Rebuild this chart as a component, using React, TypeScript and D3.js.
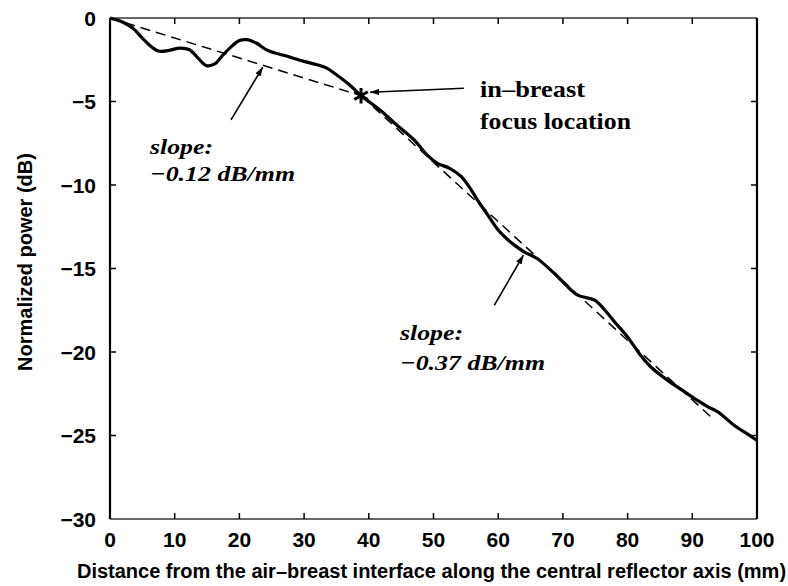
import React from "react";
import * as d3 from "d3";

const distanceMm = [0, 2, 3.5, 5, 6.5, 7.5, 9, 10.8, 12.3, 13.6, 14.9, 16.2, 17.5, 18.8, 20, 21.2, 22.6, 24.4, 27, 29.5, 32, 33.5, 35, 37, 38.8, 40, 42, 44, 47, 49, 50.6, 52.5, 54.3, 55.5, 56.8, 58.4, 60, 61, 62.5, 64, 66, 68.7, 70.5, 72.3, 74.9, 76.5, 78, 80, 82, 83.6, 86.2, 88.5, 90.8, 92.5, 94, 96.5, 98.5, 100];
const powerDb = [0, -0.25, -0.6, -1.2, -1.75, -1.98, -1.95, -1.8, -1.9, -2.4, -2.85, -2.75, -2.2, -1.7, -1.35, -1.3, -1.5, -1.95, -2.25, -2.55, -2.8, -3.0, -3.4, -4.0, -4.65, -5.0, -5.6, -6.3, -7.3, -8.2, -8.7, -9.0, -9.5, -10.1, -10.9, -11.8, -12.7, -13.1, -13.6, -14.0, -14.4, -15.3, -16.0, -16.6, -16.9, -17.5, -18.2, -19.1, -20.2, -20.9, -21.7, -22.3, -22.9, -23.3, -23.6, -24.4, -24.9, -25.3];

const fit1Mm = [0, 38.8];
const fit1Db = [0, -4.65];
const fit2Mm = [38.8, 93.2];
const fit2Db = [-4.65, -24.0];

const focusMm = 38.8;
const focusDb = -4.65;

const xTicks = [0, 10, 20, 30, 40, 50, 60, 70, 80, 90, 100];
const yTicks = [0, -5, -10, -15, -20, -25, -30];
const yTickLabels = ["0", "\u22125", "\u221210", "\u221215", "\u221220", "\u221225", "\u221230"];

const xLabel = "Distance from the air\u2013breast interface along the central reflector axis (mm)";
const yLabel = "Normalized power  (dB)";
const slopeLabel = "slope:";
const slope1Label = "\u22120.12 dB/mm";
const slope2Label = "\u22120.37 dB/mm";
const focusLabel1 = "in\u2013breast";
const focusLabel2 = "focus location";

const W = 788;
const H = 586;
const left = 110;
const right = 757;
const top = 18;
const bottom = 519;

export default function App() {
  const x = d3.scaleLinear().domain([0, 100]).range([left, right]);
  const y = d3.scaleLinear().domain([-30, 0]).range([bottom, top]);

  const pts = distanceMm.map((d, i) => [d, powerDb[i]] as [number, number]);
  const line = d3
    .line<[number, number]>()
    .x((d) => x(d[0]))
    .y((d) => y(d[1]))
    .curve(d3.curveCatmullRom.alpha(0.5));

  const fit1 = fit1Mm.map((d, i) => [d, fit1Db[i]] as [number, number]);
  const fit2 = fit2Mm.map((d, i) => [d, fit2Db[i]] as [number, number]);
  const straight = d3
    .line<[number, number]>()
    .x((d) => x(d[0]))
    .y((d) => y(d[1]));

  const star = d3.symbol().type(d3.symbolAsterisk).size(170)();

  const sans = "'Liberation Sans', Arial, sans-serif";
  const serif = "'Liberation Serif', 'Times New Roman', serif";
  const tickLen = 6;

  return (
    <svg
      width={W}
      height={H}
      style={{ position: "absolute", left: 0, top: 0, background: "#fff" }}
    >
      <defs>
        <marker
          id="ah"
          viewBox="0 0 10 10"
          refX="10"
          refY="5"
          markerWidth="9"
          markerHeight="9"
          markerUnits="userSpaceOnUse"
          orient="auto"
        >
          <path d="M0,1.5 L10,5 L0,8.5 Z" fill="#000" />
        </marker>
      </defs>

      {/* frame */}
      <line x1={left} x2={right} y1={top} y2={top} stroke="#333" strokeWidth={1.3} />
      <line x1={left} x2={right} y1={bottom} y2={bottom} stroke="#333" strokeWidth={1.3} />
      <line x1={left} x2={left} y1={top} y2={bottom} stroke="#000" strokeWidth={2.2} />
      <line x1={right} x2={right} y1={top} y2={bottom} stroke="#000" strokeWidth={2.2} />

      {/* ticks */}
      {xTicks.slice(1, -1).map((t) => (
        <g key={"xt" + t}>
          <line x1={x(t)} x2={x(t)} y1={bottom} y2={bottom - tickLen} stroke="#000" strokeWidth={1.5} />
          <line x1={x(t)} x2={x(t)} y1={top} y2={top + tickLen} stroke="#000" strokeWidth={1.5} />
        </g>
      ))}
      {yTicks.slice(1, -1).map((t) => (
        <g key={"yt" + t}>
          <line x1={left} x2={left + tickLen} y1={y(t)} y2={y(t)} stroke="#000" strokeWidth={1.5} />
          <line x1={right} x2={right - tickLen} y1={y(t)} y2={y(t)} stroke="#000" strokeWidth={1.5} />
        </g>
      ))}

      {/* tick labels */}
      {xTicks.map((t) => (
        <text
          key={"xl" + t}
          x={x(t)}
          y={547}
          textAnchor="middle"
          fontFamily={sans}
          fontWeight="bold"
          fontSize={21}
        >
          {String(t)}
        </text>
      ))}
      {yTicks.map((t, i) => (
        <text
          key={"yl" + t}
          x={96}
          y={y(t) + 7.5}
          textAnchor="end"
          fontFamily={sans}
          fontWeight="bold"
          fontSize={21}
        >
          {yTickLabels[i]}
        </text>
      ))}

      {/* axis labels */}
      <text
        x={(80 + 783) / 2}
        y={578}
        textAnchor="middle"
        fontFamily={sans}
        fontWeight="bold"
        fontSize={20}
      >
        {xLabel}
      </text>
      <text
        transform={`translate(32,262) rotate(-90)`}
        textAnchor="middle"
        fontFamily={sans}
        fontWeight="bold"
        fontSize={20}
      >
        {yLabel}
      </text>

      {/* fit lines */}
      <path d={straight(fit1) || ""} fill="none" stroke="#000" strokeWidth={1.5} strokeDasharray="10,6" />
      <path d={straight(fit2) || ""} fill="none" stroke="#000" strokeWidth={1.5} strokeDasharray="10,6" />

      {/* measured curve */}
      <path d={line(pts) || ""} fill="none" stroke="#000" strokeWidth={3.2} strokeLinejoin="round" />

      {/* focus marker */}
      <path
        d={star || ""}
        transform={`translate(${x(focusMm)},${y(focusDb)})`}
        fill="none"
        stroke="#000"
        strokeWidth={3}
      />

      {/* annotation arrows */}
      <line
        x1={x(18.7)}
        y1={y(-6.1)}
        x2={x(23.6)}
        y2={y(-2.95)}
        stroke="#000"
        strokeWidth={1.6}
        markerEnd="url(#ah)"
      />
      <line
        x1={x(59.4)}
        y1={y(-17.2)}
        x2={x(63.9)}
        y2={y(-14.2)}
        stroke="#000"
        strokeWidth={1.6}
        markerEnd="url(#ah)"
      />
      <line
        x1={x(54.7)}
        y1={y(-4.2)}
        x2={x(40.2)}
        y2={y(-4.45)}
        stroke="#000"
        strokeWidth={1.5}
        markerEnd="url(#ah)"
      />

      {/* annotation texts */}
      <g fontFamily={serif} fontWeight="bold" fontStyle="italic" fontSize={22}>
        <text x={150} y={154} textLength={63} lengthAdjust="spacingAndGlyphs">{slopeLabel}</text>
        <text x={150} y={181} textLength={145} lengthAdjust="spacingAndGlyphs">{slope1Label}</text>
        <text x={400} y={340} textLength={63} lengthAdjust="spacingAndGlyphs">{slopeLabel}</text>
        <text x={400} y={370} textLength={145} lengthAdjust="spacingAndGlyphs">{slope2Label}</text>
      </g>
      <g fontFamily={serif} fontWeight="bold" fontSize={24}>
        <text x={480} y={97} textLength={105} lengthAdjust="spacingAndGlyphs">{focusLabel1}</text>
        <text x={480} y={129} textLength={151} lengthAdjust="spacingAndGlyphs">{focusLabel2}</text>
      </g>
    </svg>
  );
}
